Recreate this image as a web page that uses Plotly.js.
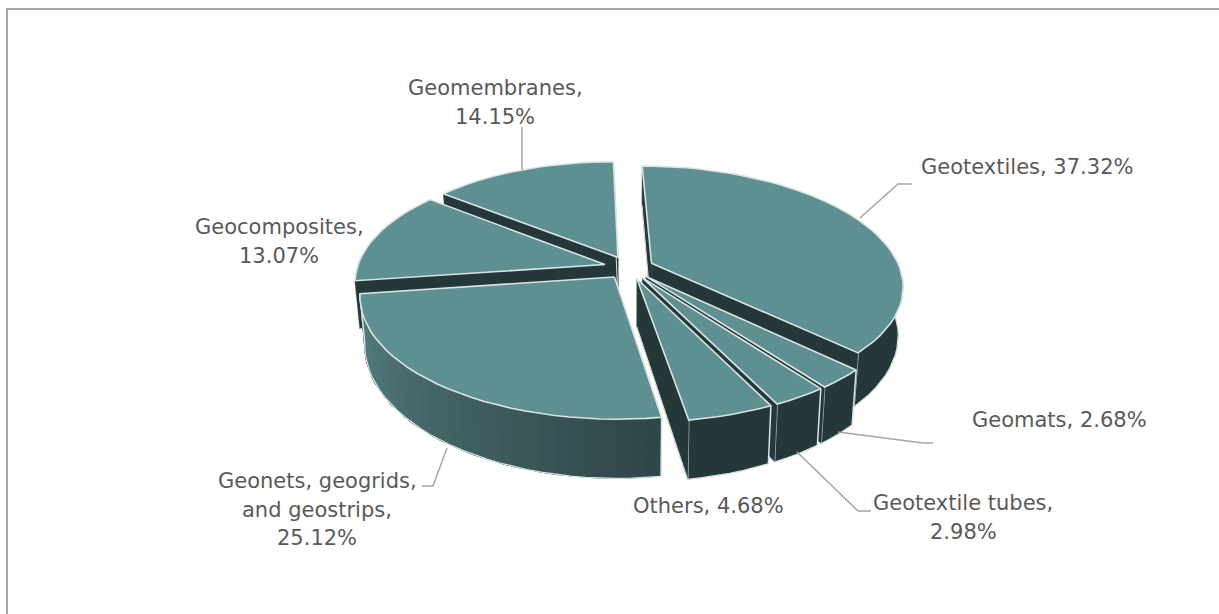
<!DOCTYPE html>
<html><head><meta charset="utf-8">
<script src="https://cdn.plot.ly/plotly-3.0.1.min.js"></script>
<style>html,body{margin:0;padding:0;background:#fff}#c{width:1219px;height:614px}</style>
</head><body><div id="c"></div>
<script>
const categories=["Geotextiles","Geomats","Geotextile tubes","Others","Geonets, geogrids, and geostrips","Geocomposites","Geomembranes"];
const shares=[37.32,2.68,2.98,4.68,25.12,13.07,14.15];
const labelLines=[["Geotextiles, 37.32%"],["Geomats, 2.68%"],["Geotextile tubes,","2.98%"],["Others, 4.68%"],["Geonets, geogrids,","and geostrips,","25.12%"],["Geocomposites,","13.07%"],["Geomembranes,","14.15%"]];
const labelX=[1027,1059,963,708,317,279,495];
const labelY=[167,420,503,506,481,227,88];
const leaderX=[[860,898,912],[838,923,933],[797,858,871],[],[447,433,422],[],[522,522]];
const leaderY=[[218,184,184],[432,443,443],[452,511,511],[],[448,486,486],[],[170,127]];
const drawOrder=[6,0,5,4,1,2,3];
const topColor="#5f9091",wallColor="#243839",edgeColor="#d9e3e3";
const wallFrom=[[36,56,57],[36,56,57],[36,56,57],[36,56,57],[46,70,71],[36,56,57],[36,56,57]];
const wallTo=[[36,56,57],[36,56,57],[36,56,57],[36,56,57],[88,128,131],[36,56,57],[36,56,57]];

const cx=629,cy=267.6,A=248,B=114.9,k=0.168,skew=6,explode=0.1,H=47,vpX=630,tilt=0.018,visibleCos=0.3;
const rad=d=>d*Math.PI/180;
function proj(m,th,r){
  const U=explode*Math.sin(m)+r*Math.sin(th),V=explode*Math.cos(m)+r*Math.cos(th),s=1/(1+k*V);
  return {x:cx+A*U*s-skew*V,y:cy-B*V*s,s,th,U,V};
}
const low=p=>({x:p.x-(p.x-vpX)*tilt,y:p.y+H*Math.pow(p.s,1.15)});
const traces=[];
function poly(pts,fill,line,w){
  traces.push({type:"scatter",mode:"lines",x:pts.map(p=>p.x).concat(pts[0].x),y:pts.map(p=>p.y).concat(pts[0].y),
    fill:"toself",fillcolor:fill,line:{color:line,width:w},hoverinfo:"skip",showlegend:false});
}
function path(pts,w){
  traces.push({type:"scatter",mode:"lines",x:pts.map(p=>p.x),y:pts.map(p=>p.y),line:{color:edgeColor,width:w},hoverinfo:"skip",showlegend:false});
}
const rgb=c=>`rgb(${Math.round(c[0])},${Math.round(c[1])},${Math.round(c[2])})`;
let cum=0;const starts=shares.map(v=>{const a=cum;cum+=v;return a;});
drawOrder.forEach(i=>{
  const a0=rad(starts[i]*3.6),a1=rad((starts[i]+shares[i])*3.6),m=(a0+a1)/2;
  const apex=proj(m,0,0),n=Math.max(3,Math.ceil((a1-a0)/rad(3)));
  const rim=[];for(let j=0;j<=n;j++)rim.push(proj(m,a0+(a1-a0)*j/n,1));
  const vis=rim.filter(p=>Math.cos(p.th)<=visibleCos);
  // outer wall: each step repaints from its start to the far end, so no seams appear
  let last="";
  for(let j=0;j<vis.length-1;j++){
    const t=(j+0.5)/(vis.length-1),col=rgb(wallFrom[i].map((f,q)=>f+(wallTo[i][q]-f)*t));
    if(col===last)continue;last=col;
    const part=vis.slice(j);
    poly(part.concat(part.slice().reverse().map(low)),col,col,0.3);
  }
  if(vis.length){
    path(vis.map(low),1.3);
    [rim[0],rim[n]].forEach(p=>{if(Math.cos(p.th)<0.05)path([p,low(p)],1.5);});
  }
  // cut faces: only those turned towards the viewpoint
  const camV=-1/k;
  const face=(th,sg)=>{
    const nu=sg*Math.cos(th),nv=-sg*Math.sin(th);
    if((-apex.U)*nu+(camV-apex.V)*nv<=0)return;
    const e=sg>0?rim[n]:rim[0];
    poly([apex,low(apex),low(e),e],wallColor,wallColor,0.5);
    path([low(apex),low(e)],1);
  };
  face(a0,-1);face(a1,1);
  poly([apex].concat(rim),topColor,edgeColor,1.6);
});
leaderX.forEach((lx,i)=>{ if(lx.length) traces.push({type:"scatter",mode:"lines",x:lx,y:leaderY[i],line:{color:"#a6a6a6",width:1.5},hoverinfo:"skip",showlegend:false}); });
const annotations=[];
labelLines.forEach((ls,i)=>ls.forEach((t,j)=>annotations.push({xref:"x",yref:"y",x:labelX[i],y:labelY[i]+j*28.5,text:t,showarrow:false,xanchor:"center",yanchor:"middle",font:{family:"'DejaVu Sans',sans-serif",size:21,color:"#595959"}})));
const frame={xref:"x",yref:"y",line:{color:"#a8a8a8",width:2},layer:"below"};
const layout={width:1219,height:614,margin:{l:0,r:0,t:0,b:0},paper_bgcolor:"#fff",plot_bgcolor:"#fff",showlegend:false,
  xaxis:{range:[0,1219],visible:false,fixedrange:true},yaxis:{range:[614,0],visible:false,fixedrange:true},annotations,
  shapes:[{...frame,type:"line",x0:6,y0:9,x1:1219,y1:9},{...frame,type:"line",x0:7,y0:8,x1:7,y1:614}]};
Plotly.newPlot("c",traces,layout,{displayModeBar:false,staticPlot:true});
</script></body></html>
